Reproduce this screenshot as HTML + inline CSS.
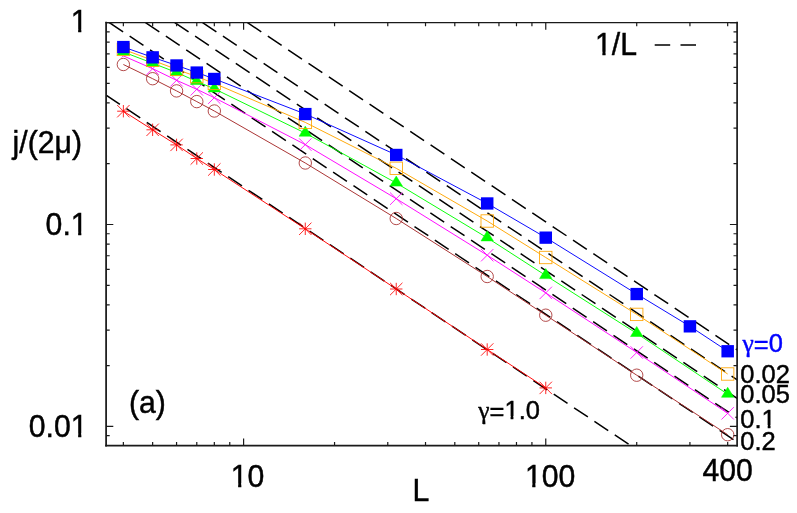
<!DOCTYPE html>
<html><head><meta charset="utf-8"><title>chart</title>
<style>html,body{margin:0;padding:0;background:#fff}svg{display:block}</style></head>
<body>
<svg width="797" height="513" viewBox="0 0 797 513">
<rect width="797" height="513" fill="#ffffff"/>
<defs><clipPath id="cp"><rect x="106.1" y="22.6" width="631.0" height="423.0"/></clipPath></defs>
<g clip-path="url(#cp)" stroke="#000" stroke-width="1.5" fill="none" stroke-dasharray="16.6 7.87">
<path d="M106.10 95.10 L630.70 445.60"/>
<path d="M109.31 22.60 L737.17 442.13"/>
<path d="M145.52 22.60 L737.17 417.93"/>
<path d="M174.76 22.60 L737.17 398.40"/>
<path d="M202.59 22.60 L737.17 379.80"/>
<path d="M247.48 22.60 L737.17 349.81"/>
</g>
<path d="M123.36 111.20 L152.64 129.80 L176.57 144.90 L196.79 158.50 L214.32 169.50 L305.28 228.80 L396.24 289.00 L487.20 349.50 L545.76 387.90" fill="none" stroke="#ff0000" stroke-width="0.95"/>
<path d="M117.16 105.00 L129.56 117.40 M117.16 117.40 L129.56 105.00 M117.16 111.20 L129.56 111.20 M123.36 105.00 L123.36 117.40" fill="none" stroke="#ff0000" stroke-width="0.85"/>
<path d="M146.44 123.60 L158.84 136.00 M146.44 136.00 L158.84 123.60 M146.44 129.80 L158.84 129.80 M152.64 123.60 L152.64 136.00" fill="none" stroke="#ff0000" stroke-width="0.85"/>
<path d="M170.37 138.70 L182.77 151.10 M170.37 151.10 L182.77 138.70 M170.37 144.90 L182.77 144.90 M176.57 138.70 L176.57 151.10" fill="none" stroke="#ff0000" stroke-width="0.85"/>
<path d="M190.59 152.30 L202.99 164.70 M190.59 164.70 L202.99 152.30 M190.59 158.50 L202.99 158.50 M196.79 152.30 L196.79 164.70" fill="none" stroke="#ff0000" stroke-width="0.85"/>
<path d="M208.12 163.30 L220.52 175.70 M208.12 175.70 L220.52 163.30 M208.12 169.50 L220.52 169.50 M214.32 163.30 L214.32 175.70" fill="none" stroke="#ff0000" stroke-width="0.85"/>
<path d="M299.08 222.60 L311.48 235.00 M299.08 235.00 L311.48 222.60 M299.08 228.80 L311.48 228.80 M305.28 222.60 L305.28 235.00" fill="none" stroke="#ff0000" stroke-width="0.85"/>
<path d="M390.04 282.80 L402.44 295.20 M390.04 295.20 L402.44 282.80 M390.04 289.00 L402.44 289.00 M396.24 282.80 L396.24 295.20" fill="none" stroke="#ff0000" stroke-width="0.85"/>
<path d="M481.00 343.30 L493.40 355.70 M481.00 355.70 L493.40 343.30 M481.00 349.50 L493.40 349.50 M487.20 343.30 L487.20 355.70" fill="none" stroke="#ff0000" stroke-width="0.85"/>
<path d="M539.56 381.70 L551.96 394.10 M539.56 394.10 L551.96 381.70 M539.56 387.90 L551.96 387.90 M545.76 381.70 L545.76 394.10" fill="none" stroke="#ff0000" stroke-width="0.85"/>
<path d="M123.36 64.50 L152.64 78.70 L176.57 90.90 L196.79 101.60 L214.32 111.00 L305.28 163.00 L396.24 218.50 L487.20 276.50 L545.76 315.20 L636.72 375.20 L727.68 434.70" fill="none" stroke="#a52a2a" stroke-width="0.95"/>
<circle cx="123.36" cy="64.50" r="6.20" fill="none" stroke="#a52a2a" stroke-width="0.85"/>
<circle cx="152.64" cy="78.70" r="6.20" fill="none" stroke="#a52a2a" stroke-width="0.85"/>
<circle cx="176.57" cy="90.90" r="6.20" fill="none" stroke="#a52a2a" stroke-width="0.85"/>
<circle cx="196.79" cy="101.60" r="6.20" fill="none" stroke="#a52a2a" stroke-width="0.85"/>
<circle cx="214.32" cy="111.00" r="6.20" fill="none" stroke="#a52a2a" stroke-width="0.85"/>
<circle cx="305.28" cy="163.00" r="6.20" fill="none" stroke="#a52a2a" stroke-width="0.85"/>
<circle cx="396.24" cy="218.50" r="6.20" fill="none" stroke="#a52a2a" stroke-width="0.85"/>
<circle cx="487.20" cy="276.50" r="6.20" fill="none" stroke="#a52a2a" stroke-width="0.85"/>
<circle cx="545.76" cy="315.20" r="6.20" fill="none" stroke="#a52a2a" stroke-width="0.85"/>
<circle cx="636.72" cy="375.20" r="6.20" fill="none" stroke="#a52a2a" stroke-width="0.85"/>
<circle cx="727.68" cy="434.70" r="6.20" fill="none" stroke="#a52a2a" stroke-width="0.85"/>
<path d="M123.36 55.90 L152.64 68.70 L176.57 80.30 L196.79 89.30 L214.32 97.70 L305.28 144.60 L396.24 198.70 L487.20 255.20 L545.76 292.90 L636.72 352.50 L727.68 413.30" fill="none" stroke="#ff00ff" stroke-width="0.95"/>
<path d="M123.36 55.90 l-1.6 1.6" fill="none" stroke="#ff00ff" stroke-width="0.95"/>
<path d="M146.44 62.50 L158.84 74.90 M146.44 74.90 L158.84 62.50" fill="none" stroke="#ff00ff" stroke-width="0.85"/>
<path d="M170.37 74.10 L182.77 86.50 M170.37 86.50 L182.77 74.10" fill="none" stroke="#ff00ff" stroke-width="0.85"/>
<path d="M190.59 83.10 L202.99 95.50 M190.59 95.50 L202.99 83.10" fill="none" stroke="#ff00ff" stroke-width="0.85"/>
<path d="M208.12 91.50 L220.52 103.90 M208.12 103.90 L220.52 91.50" fill="none" stroke="#ff00ff" stroke-width="0.85"/>
<path d="M299.08 138.40 L311.48 150.80 M299.08 150.80 L311.48 138.40" fill="none" stroke="#ff00ff" stroke-width="0.85"/>
<path d="M390.04 192.50 L402.44 204.90 M390.04 204.90 L402.44 192.50" fill="none" stroke="#ff00ff" stroke-width="0.85"/>
<path d="M481.00 249.00 L493.40 261.40 M481.00 261.40 L493.40 249.00" fill="none" stroke="#ff00ff" stroke-width="0.85"/>
<path d="M539.56 286.70 L551.96 299.10 M539.56 299.10 L551.96 286.70" fill="none" stroke="#ff00ff" stroke-width="0.85"/>
<path d="M630.52 346.30 L642.92 358.70 M630.52 358.70 L642.92 346.30" fill="none" stroke="#ff00ff" stroke-width="0.85"/>
<path d="M721.48 407.10 L733.88 419.50 M721.48 419.50 L733.88 407.10" fill="none" stroke="#ff00ff" stroke-width="0.85"/>
<path d="M123.36 52.00 L152.64 63.20 L176.57 72.50 L196.79 81.40 L214.32 88.80 L305.28 133.10 L396.24 183.00 L487.20 237.80 L545.76 275.50 L636.72 333.40 L727.68 394.20" fill="none" stroke="#00ff00" stroke-width="0.95"/>
<path d="M123.36 45.06 L117.16 55.10 L129.56 55.10 Z" fill="#00ff00" stroke="#00ff00" stroke-width="0.5"/>
<path d="M152.64 56.26 L146.44 66.30 L158.84 66.30 Z" fill="#00ff00" stroke="#00ff00" stroke-width="0.5"/>
<path d="M176.57 65.56 L170.37 75.60 L182.77 75.60 Z" fill="#00ff00" stroke="#00ff00" stroke-width="0.5"/>
<path d="M196.79 74.46 L190.59 84.50 L202.99 84.50 Z" fill="#00ff00" stroke="#00ff00" stroke-width="0.5"/>
<path d="M214.32 81.86 L208.12 91.90 L220.52 91.90 Z" fill="#00ff00" stroke="#00ff00" stroke-width="0.5"/>
<path d="M305.28 126.16 L299.08 136.20 L311.48 136.20 Z" fill="#00ff00" stroke="#00ff00" stroke-width="0.5"/>
<path d="M396.24 176.06 L390.04 186.10 L402.44 186.10 Z" fill="#00ff00" stroke="#00ff00" stroke-width="0.5"/>
<path d="M487.20 230.86 L481.00 240.90 L493.40 240.90 Z" fill="#00ff00" stroke="#00ff00" stroke-width="0.5"/>
<path d="M545.76 268.56 L539.56 278.60 L551.96 278.60 Z" fill="#00ff00" stroke="#00ff00" stroke-width="0.5"/>
<path d="M636.72 326.46 L630.52 336.50 L642.92 336.50 Z" fill="#00ff00" stroke="#00ff00" stroke-width="0.5"/>
<path d="M727.68 387.26 L721.48 397.30 L733.88 397.30 Z" fill="#00ff00" stroke="#00ff00" stroke-width="0.5"/>
<path d="M123.36 49.40 L152.64 60.30 L176.57 69.40 L196.79 76.60 L214.32 83.40 L305.28 122.40 L396.24 168.30 L487.20 221.00 L545.76 257.50 L636.72 314.40 L727.68 374.00" fill="none" stroke="#ffa500" stroke-width="0.95"/>
<rect x="117.16" y="43.20" width="12.40" height="12.40" fill="none" stroke="#ffa500" stroke-width="0.85"/>
<rect x="146.44" y="54.10" width="12.40" height="12.40" fill="none" stroke="#ffa500" stroke-width="0.85"/>
<rect x="170.37" y="63.20" width="12.40" height="12.40" fill="none" stroke="#ffa500" stroke-width="0.85"/>
<rect x="190.59" y="70.40" width="12.40" height="12.40" fill="none" stroke="#ffa500" stroke-width="0.85"/>
<rect x="208.12" y="77.20" width="12.40" height="12.40" fill="none" stroke="#ffa500" stroke-width="0.85"/>
<rect x="299.08" y="116.20" width="12.40" height="12.40" fill="none" stroke="#ffa500" stroke-width="0.85"/>
<rect x="390.04" y="162.10" width="12.40" height="12.40" fill="none" stroke="#ffa500" stroke-width="0.85"/>
<rect x="481.00" y="214.80" width="12.40" height="12.40" fill="none" stroke="#ffa500" stroke-width="0.85"/>
<rect x="539.56" y="251.30" width="12.40" height="12.40" fill="none" stroke="#ffa500" stroke-width="0.85"/>
<rect x="630.52" y="308.20" width="12.40" height="12.40" fill="none" stroke="#ffa500" stroke-width="0.85"/>
<rect x="721.48" y="367.80" width="12.40" height="12.40" fill="none" stroke="#ffa500" stroke-width="0.85"/>
<path d="M123.36 47.00 L152.64 57.30 L176.57 65.40 L196.79 72.50 L214.32 78.90 L305.28 114.00 L396.24 154.90 L487.20 203.40 L545.76 237.60 L636.72 294.00 L689.93 326.30 L727.68 351.20" fill="none" stroke="#0000ff" stroke-width="0.95"/>
<rect x="117.11" y="40.90" width="12.50" height="12.30" fill="#0000ff"/>
<rect x="146.39" y="51.20" width="12.50" height="12.30" fill="#0000ff"/>
<rect x="170.32" y="59.30" width="12.50" height="12.30" fill="#0000ff"/>
<rect x="190.54" y="66.40" width="12.50" height="12.30" fill="#0000ff"/>
<rect x="208.07" y="72.80" width="12.50" height="12.30" fill="#0000ff"/>
<rect x="299.03" y="107.90" width="12.50" height="12.30" fill="#0000ff"/>
<rect x="389.99" y="148.80" width="12.50" height="12.30" fill="#0000ff"/>
<rect x="480.95" y="197.30" width="12.50" height="12.30" fill="#0000ff"/>
<rect x="539.51" y="231.50" width="12.50" height="12.30" fill="#0000ff"/>
<rect x="630.47" y="287.90" width="12.50" height="12.30" fill="#0000ff"/>
<rect x="683.68" y="320.20" width="12.50" height="12.30" fill="#0000ff"/>
<rect x="721.43" y="345.10" width="12.50" height="12.30" fill="#0000ff"/>
<g stroke="#1a1a1a" stroke-linecap="square" fill="none"><path d="M106.1 22.6 H737.1" stroke-width="1.35"/><path d="M106.1 445.6 H737.1" stroke-width="1.75"/><path d="M106.1 22.6 V445.6" stroke-width="1.75"/><path d="M737.1 22.6 V445.6" stroke-width="1.7"/></g>
<path d="M123.36 445.6 V442.00 M123.36 22.6 V26.20 M152.64 445.6 V442.00 M152.64 22.6 V26.20 M176.57 445.6 V442.00 M176.57 22.6 V26.20 M196.79 445.6 V442.00 M196.79 22.6 V26.20 M214.32 445.6 V442.00 M214.32 22.6 V26.20 M229.77 445.6 V442.00 M229.77 22.6 V26.20 M243.60 445.6 V438.40 M243.60 22.6 V29.80 M334.56 445.6 V442.00 M334.56 22.6 V26.20 M387.77 445.6 V442.00 M387.77 22.6 V26.20 M425.52 445.6 V442.00 M425.52 22.6 V26.20 M454.80 445.6 V442.00 M454.80 22.6 V26.20 M478.73 445.6 V442.00 M478.73 22.6 V26.20 M498.95 445.6 V442.00 M498.95 22.6 V26.20 M516.48 445.6 V442.00 M516.48 22.6 V26.20 M531.93 445.6 V442.00 M531.93 22.6 V26.20 M545.76 445.6 V438.40 M545.76 22.6 V29.80 M636.72 445.6 V442.00 M636.72 22.6 V26.20 M689.93 445.6 V442.00 M689.93 22.6 V26.20 M727.68 445.6 V442.00 M727.68 22.6 V26.20 M106.1 22.60 H113.30 M737.1 22.60 H729.90 M106.1 224.50 H113.30 M737.1 224.50 H729.90 M106.1 163.72 H109.70 M737.1 163.72 H733.50 M106.1 128.17 H109.70 M737.1 128.17 H733.50 M106.1 102.94 H109.70 M737.1 102.94 H733.50 M106.1 83.38 H109.70 M737.1 83.38 H733.50 M106.1 67.39 H109.70 M737.1 67.39 H733.50 M106.1 53.87 H109.70 M737.1 53.87 H733.50 M106.1 42.17 H109.70 M737.1 42.17 H733.50 M106.1 31.84 H109.70 M737.1 31.84 H733.50 M106.1 426.40 H113.30 M737.1 426.40 H729.90 M106.1 365.62 H109.70 M737.1 365.62 H733.50 M106.1 330.07 H109.70 M737.1 330.07 H733.50 M106.1 304.84 H109.70 M737.1 304.84 H733.50 M106.1 285.28 H109.70 M737.1 285.28 H733.50 M106.1 269.29 H109.70 M737.1 269.29 H733.50 M106.1 255.77 H109.70 M737.1 255.77 H733.50 M106.1 244.07 H109.70 M737.1 244.07 H733.50 M106.1 233.74 H109.70 M737.1 233.74 H733.50 M106.1 435.64 H109.70 M737.1 435.64 H733.50" stroke="#1a1a1a" stroke-width="1.2" fill="none"/>
<g font-family="'Liberation Sans', sans-serif" opacity="0.999">
<text transform="translate(87.6 32.40) scale(1 1.02)" clip-path="url(#c0)" font-size="30.2" text-anchor="end" fill="#000" stroke="#000" stroke-width="0.45">1</text>
<text transform="translate(87.6 235.00) scale(1 1.02)" clip-path="url(#c1)" font-size="30.2" text-anchor="end" fill="#000" stroke="#000" stroke-width="0.45">0.1</text>
<text transform="translate(87.6 436.60) scale(1 1.02)" clip-path="url(#c2)" font-size="30.2" text-anchor="end" fill="#000" stroke="#000" stroke-width="0.45">0.01</text>
<text transform="translate(12.55 153.40) scale(1 1.02)" font-size="30.2" text-anchor="start" fill="#000" stroke="#000" stroke-width="0.45">j/(2μ)</text>
<text transform="translate(129.0 412.60) scale(1 1.02)" font-size="30.2" text-anchor="start" fill="#000" stroke="#000" stroke-width="0.45">(a)</text>
<text transform="translate(247.6 486.60) scale(1 1.02)" clip-path="url(#c3)" font-size="30.2" text-anchor="middle" fill="#000" stroke="#000" stroke-width="0.45">10</text>
<text transform="translate(550.1 486.60) scale(1 1.02)" clip-path="url(#c4)" font-size="30.2" text-anchor="middle" fill="#000" stroke="#000" stroke-width="0.45">100</text>
<text transform="translate(727.7 481.40) scale(1 1.02)" font-size="30.2" text-anchor="middle" fill="#000" stroke="#000" stroke-width="0.45">400</text>
<text transform="translate(412.6 501.20) scale(1 1.02)" font-size="30.2" text-anchor="start" fill="#000" stroke="#000" stroke-width="0.45">L</text>
<text transform="translate(595.05 55.20) scale(1 1.02)" clip-path="url(#c5)" font-size="30.2" text-anchor="start" fill="#000" stroke="#000" stroke-width="0.45">1/L</text>
<text transform="translate(742.5 351.80) scale(1 1.02)" font-size="25.5" text-anchor="start" fill="#0000ff" stroke="#0000ff" stroke-width="0.45"><tspan font-family="'Liberation Serif', serif">γ</tspan><tspan dy="1.4">=</tspan><tspan dy="-1.4">0</tspan></text>
<text transform="translate(740.3 383.10) scale(1 1.02)" font-size="25.5" text-anchor="start" fill="#000" stroke="#000" stroke-width="0.45">0.02</text>
<text transform="translate(740.3 403.20) scale(1 1.02)" font-size="25.5" text-anchor="start" fill="#000" stroke="#000" stroke-width="0.45">0.05</text>
<text transform="translate(740.3 427.90) scale(1 1.02)" clip-path="url(#c6)" font-size="25.5" text-anchor="start" fill="#000" stroke="#000" stroke-width="0.45">0.1</text>
<text transform="translate(740.3 449.80) scale(1 1.02)" font-size="25.5" text-anchor="start" fill="#000" stroke="#000" stroke-width="0.45">0.2</text>
<text transform="translate(478.3 418.90) scale(1 1.02)" clip-path="url(#c7)" font-size="25.5" text-anchor="start" fill="#000" stroke="#000" stroke-width="0.45"><tspan font-family="'Liberation Serif', serif">γ</tspan><tspan dy="1.4">=</tspan><tspan dy="-1.4">1.0</tspan></text>
</g>
<defs><clipPath id="c0"><path clip-rule="evenodd" d="M-22.80 -36.24 H6.00 V15.10 H-22.80 Z M-15.50 -3.26 H-9.45 V1.5 H-15.50 Z M-6.28 -3.26 H-0.48 V1.5 H-6.28 Z"/></clipPath><clipPath id="c1"><path clip-rule="evenodd" d="M-47.98 -36.24 H6.00 V15.10 H-47.98 Z M-15.50 -3.26 H-9.45 V1.5 H-15.50 Z M-6.28 -3.26 H-0.48 V1.5 H-6.28 Z"/></clipPath><clipPath id="c2"><path clip-rule="evenodd" d="M-64.78 -36.24 H6.00 V15.10 H-64.78 Z M-15.50 -3.26 H-9.45 V1.5 H-15.50 Z M-6.28 -3.26 H-0.48 V1.5 H-6.28 Z"/></clipPath><clipPath id="c3"><path clip-rule="evenodd" d="M-22.80 -36.24 H22.80 V15.10 H-22.80 Z M-15.50 -3.26 H-9.45 V1.5 H-15.50 Z M-6.28 -3.26 H-0.48 V1.5 H-6.28 Z"/></clipPath><clipPath id="c4"><path clip-rule="evenodd" d="M-31.19 -36.24 H31.19 V15.10 H-31.19 Z M-23.90 -3.26 H-17.85 V1.5 H-23.90 Z M-14.68 -3.26 H-8.88 V1.5 H-14.68 Z"/></clipPath><clipPath id="c5"><path clip-rule="evenodd" d="M-6.00 -36.24 H47.98 V15.10 H-6.00 Z M1.30 -3.26 H7.35 V1.5 H1.30 Z M10.51 -3.26 H16.31 V1.5 H10.51 Z"/></clipPath><clipPath id="c6"><path clip-rule="evenodd" d="M-6.00 -30.60 H41.45 V12.75 H-6.00 Z M22.20 -2.90 H27.43 V1.5 H22.20 Z M30.18 -2.90 H35.20 V1.5 H30.18 Z"/></clipPath><clipPath id="c7"><path clip-rule="evenodd" d="M-6.00 -30.60 H67.61 V12.75 H-6.00 Z M27.10 -2.90 H32.32 V1.5 H27.10 Z M35.07 -2.90 H40.09 V1.5 H35.07 Z"/></clipPath></defs>
<path d="M654.7 45.1 H696" stroke="#000" stroke-width="1.5" stroke-dasharray="15.5 10.3" fill="none"/>
</svg>
</body></html>
